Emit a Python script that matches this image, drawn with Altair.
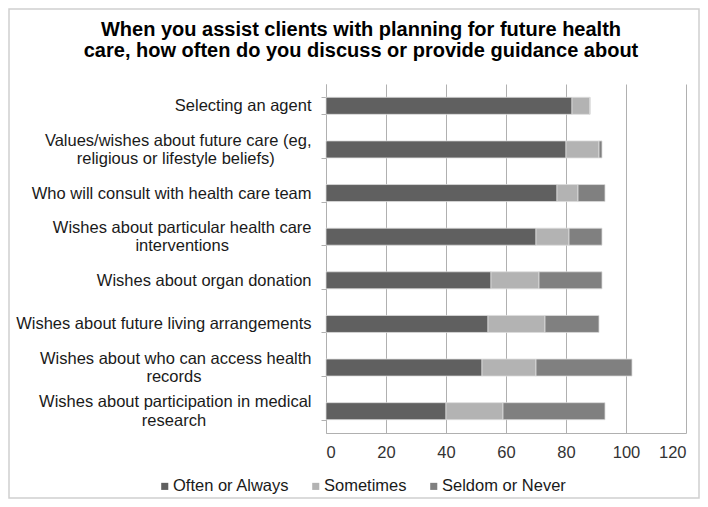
import altair as alt
import pandas as pd
import json

categories = [
    "Selecting an agent",
    "Values/wishes about future care (eg,|religious or lifestyle beliefs)",
    "Who will consult with health care team",
    "Wishes about particular health care|interventions",
    "Wishes about organ donation",
    "Wishes about future living arrangements",
    "Wishes about who can access health|records",
    "Wishes about participation in medical|research",
]
often = [82, 80, 77, 70, 55, 54, 52, 40]
sometimes = [6, 11, 7, 11, 16, 19, 18, 19]
seldom = [0, 1, 9, 11, 21, 18, 32, 34]
series = ["Often or Always", "Sometimes", "Seldom or Never"]
colors = ["#606060", "#b3b3b3", "#808080"]
x_ticks = [0, 20, 40, 60, 80, 100, 120]

rows = []
for i, c in enumerate(categories):
    for k, (s, vals) in enumerate(zip(series, [often, sometimes, seldom])):
        rows.append({"category": c, "series": s, "value": vals[i], "order": k})
df = pd.DataFrame(rows)

FONT = "Liberation Sans"
LABEL_SIZE = 16.5
LINE_H = 18.5

# Arial / Liberation Sans advance widths (per 1000 em) to centre wrapped lines
_W = {' ': 278, '(': 333, ')': 333, ',': 278, '/': 278, 'S': 667, 'V': 667, 'W': 944,
      'a': 556, 'b': 556, 'c': 500, 'd': 556, 'e': 556, 'f': 278, 'g': 556, 'h': 556,
      'i': 222, 'j': 222, 'k': 500, 'l': 222, 'm': 833, 'n': 556, 'o': 556, 'p': 556,
      'q': 556, 'r': 333, 's': 500, 't': 278, 'u': 556, 'v': 500, 'w': 722, 'x': 500,
      'y': 500, 'z': 500}


def _width(t):
    return sum(_W.get(ch, 556) for ch in t)


# pad shorter wrapped lines with no-break spaces (closed by a zero-width space
# so that they are not trimmed) so that they sit centred under the longer line
label_map = {}
for c in categories:
    lines = c.split("|")
    wmax = max(_width(l) for l in lines)
    out = []
    for l in lines:
        n = int(round((wmax - _width(l)) / 2 / 278))
        out.append(l + "\u00a0" * n + ("\u200b" if n else ""))
    label_map[c] = out

label_expr = json.dumps(label_map, ensure_ascii=False) + "[datum.label]"

bars = alt.Chart(df).mark_bar(stroke="#dcdcdc", strokeWidth=0.8).encode(
    y=alt.Y(
        "category:N",
        sort=categories,
        title=None,
        scale=alt.Scale(paddingInner=0.61, paddingOuter=0.305),
        axis=alt.Axis(
            labelExpr=label_expr,
            labelFont=FONT,
            labelFontSize=LABEL_SIZE,
            labelColor="#1a1a1a",
            labelLimit=0,
            labelPadding=10,
            labelLineHeight=LINE_H,
            labelOffset={"condition": {"test": "indexof(datum.label, '|') >= 0",
                                       "value": -LINE_H / 2},
                         "value": 0},
            tickBand="extent",
            tickSize=5,
            tickColor="#b0b0b0",
            domainColor="#b0b0b0",
            grid=False,
        ),
    ),
    x=alt.X(
        "value:Q",
        stack="zero",
        title=None,
        scale=alt.Scale(domain=[0, 120], nice=False),
        axis=alt.Axis(
            values=x_ticks,
            labelFont=FONT,
            labelFontSize=LABEL_SIZE,
            labelColor="#333333",
            labelPadding=11,
            ticks=False,
            domainColor="#b0b0b0",
            gridColor="#b0b0b0",
            gridWidth=1,
        ),
    ),
    color=alt.Color(
        "series:N",
        sort=series,
        scale=alt.Scale(domain=series, range=colors),
        legend=alt.Legend(
            title=None,
            orient="none",
            direction="horizontal",
            legendX=-169.5,
            legendY=394,
            symbolType="square",
            symbolSize=50,
            symbolStrokeWidth=0,
            labelFont=FONT,
            labelFontSize=LABEL_SIZE,
            labelColor="#1a1a1a",
            columnPadding=18,
            labelOffset=0,
        ),
    ),
    order=alt.Order("order:Q"),
)

frame = alt.Chart(pd.DataFrame({"a": [0]})).mark_rect(
    fill="transparent", stroke="#d0d0d0", strokeWidth=1.5
).encode(
    x=alt.value(-317), x2=alt.value(373), y=alt.value(-75), y2=alt.value(414)
)

chart = alt.layer(frame, bars).properties(
    width=360,
    height=349,
    title=alt.TitleParams(
        text=["When you assist clients with planning for future health",
              "care, how often do you discuss or provide guidance about"],
        font=FONT,
        fontSize=20,
        fontWeight="bold",
        color="#000000",
        lineHeight=21,
        anchor="middle",
        frame="group",
        dx=-145,
        offset=-53,
    ),
    autosize=alt.AutoSizeParams(type="none"),
    padding={"left": 318, "top": 76, "right": 14, "bottom": 66},
).configure_view(stroke=None)

chart.save("out.html", embed_options={"renderer": "svg", "actions": False})
